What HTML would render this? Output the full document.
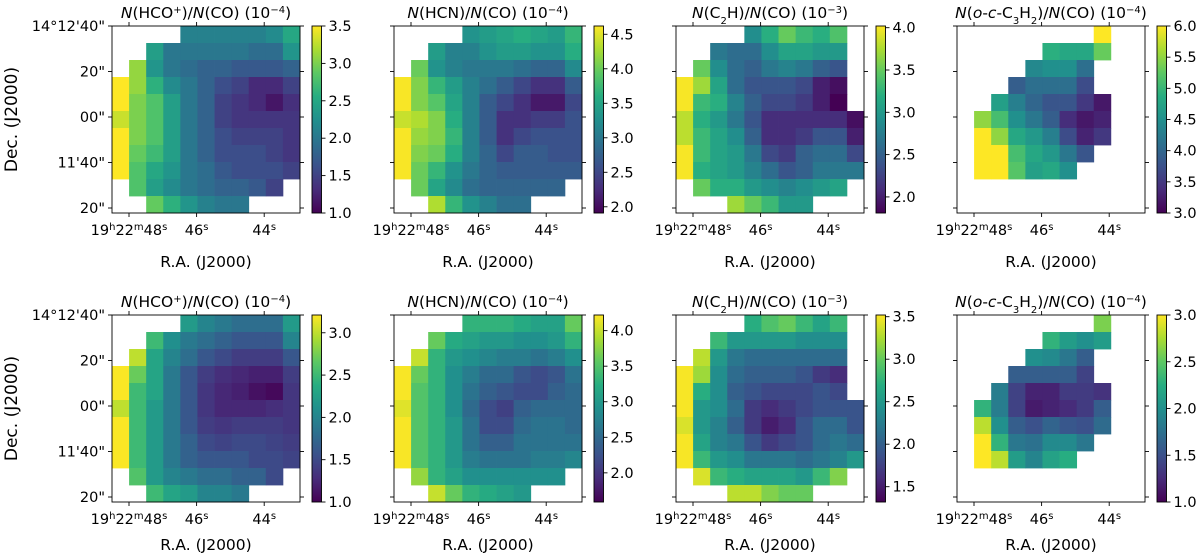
<!DOCTYPE html>
<html><head><meta charset="utf-8"><style>
html,body{margin:0;padding:0;background:#fff;width:1200px;height:555px;overflow:hidden}
svg text{font-family:"DejaVu Sans","Liberation Sans",sans-serif;fill:#000}
</style></head><body>
<svg id="fig" width="1200" height="555" viewBox="0 0 1200 555" xmlns="http://www.w3.org/2000/svg">
<defs>
<linearGradient id="viridis" x1="0" y1="1" x2="0" y2="0">
<stop offset="0" stop-color="#440154"/><stop offset="0.125" stop-color="#472c7a"/><stop offset="0.25" stop-color="#3b518b"/><stop offset="0.375" stop-color="#2c718e"/><stop offset="0.5" stop-color="#21908d"/><stop offset="0.625" stop-color="#27ad81"/><stop offset="0.75" stop-color="#5cc863"/><stop offset="0.875" stop-color="#aadc32"/><stop offset="1" stop-color="#fde725"/>
</linearGradient>
</defs>
</svg>
<script>
const n=null;
const hcoTop=[
[n,n,n,n,2.1,2.1,2.1,2.1,2.1,2.2,2.5],
[n,n,2.4,2.0,2.0,2.0,2.0,2.0,1.9,1.9,2.3],
[n,3.1,2.3,2.0,1.9,1.8,1.8,1.7,1.7,1.7,1.8],
[3.5,3.1,2.6,2.2,2.0,1.8,1.6,1.5,1.3,1.3,1.5],
[3.5,3.0,2.8,2.4,2.0,1.8,1.5,1.4,1.3,1.15,1.35],
[3.3,3.0,2.8,2.4,2.0,1.8,1.5,1.4,1.4,1.4,1.4],
[3.5,3.0,2.8,2.4,2.0,1.8,1.6,1.5,1.5,1.5,1.4],
[3.5,2.9,2.7,2.4,2.0,1.8,1.6,1.6,1.6,1.5,1.4],
[3.5,2.8,2.5,2.3,2.0,1.9,1.7,1.6,1.6,1.6,1.5],
[n,2.8,2.4,2.2,2.0,1.9,1.8,1.8,1.7,1.5,n],
[n,n,2.9,2.6,2.3,2.1,2.0,2.0,n,n,n]];
const hcnTop=[
[n,n,n,n,3.3,3.4,3.5,3.6,3.5,3.4,3.7],
[n,n,3.4,3.1,3.1,3.3,3.4,3.4,3.3,3.3,3.6],
[n,4.0,3.3,3.1,3.0,3.0,3.0,2.9,2.8,2.8,3.2],
[4.6,4.1,3.7,3.4,3.1,2.9,2.7,2.5,2.3,2.3,2.7],
[4.6,4.1,3.9,3.5,3.1,2.7,2.5,2.3,2.1,2.1,2.5],
[4.4,4.3,4.1,3.6,3.1,2.7,2.3,2.3,2.4,2.4,2.6],
[4.6,4.2,4.1,3.7,3.1,2.7,2.3,2.5,2.6,2.6,2.6],
[4.6,4.1,4.0,3.6,3.1,2.8,2.5,2.7,2.7,2.6,2.6],
[4.6,4.0,3.7,3.3,3.0,2.8,2.7,2.7,2.7,2.7,2.7],
[n,4.0,3.5,3.2,2.9,2.8,2.8,2.8,2.8,2.8,n],
[n,n,4.3,3.7,3.3,3.1,2.9,2.9,n,n,n]];
const c2hTop=[
[n,n,n,n,2.9,3.2,3.5,3.3,3.2,3.4,n],
[n,n,2.7,2.6,2.6,2.9,3.1,3.1,3.0,3.0,n],
[n,3.5,2.9,2.6,2.5,2.7,2.8,2.7,2.5,2.4,n],
[4.0,3.7,3.1,2.6,2.4,2.4,2.4,2.3,2.0,1.9,n],
[4.0,3.3,3.2,2.8,2.5,2.3,2.3,2.2,2.0,1.8,n],
[3.8,3.2,3.0,2.7,2.4,2.1,2.1,2.1,2.1,2.1,1.9],
[3.8,3.3,3.1,2.9,2.5,2.1,2.1,2.2,2.4,2.4,2.0],
[4.0,3.3,3.1,3.0,2.7,2.3,2.2,2.5,2.6,2.6,2.3],
[4.0,3.2,3.1,3.0,2.8,2.6,2.4,2.5,2.7,2.7,2.7],
[n,3.5,3.2,3.2,3.0,2.9,2.8,2.9,3.0,3.1,n],
[n,n,n,3.7,3.5,3.3,3.0,3.0,n,n,n]];
const c3h2Top=[
[n,n,n,n,n,n,n,n,6.0,n,n],
[n,n,n,n,n,4.9,4.8,4.8,5.3,n,n],
[n,n,n,n,4.4,4.5,4.5,4.1,n,n,n],
[n,n,n,3.9,4.1,4.1,4.1,3.7,n,n,n],
[n,n,4.7,4.3,4.0,3.8,3.8,3.5,3.2,n,n],
[n,5.5,5.1,4.5,4.2,3.9,3.4,3.2,3.3,n,n],
[n,6.0,5.5,4.8,4.6,4.3,3.7,3.3,3.5,n,n],
[n,6.0,6.0,5.1,4.8,4.6,4.2,3.8,n,n,n],
[n,6.0,6.0,5.2,4.7,4.8,4.5,n,n,n,n],
[n,n,n,n,n,n,n,n,n,n,n],
[n,n,n,n,n,n,n,n,n,n,n]];
const hcoBot=[
[n,n,n,n,2.2,2.0,1.9,1.8,1.8,1.8,2.2],
[n,n,2.5,2.1,1.9,1.8,1.7,1.6,1.6,1.6,2.0],
[n,3.0,2.3,2.0,1.8,1.6,1.5,1.4,1.4,1.4,1.6],
[3.2,2.7,2.3,1.9,1.6,1.4,1.3,1.25,1.2,1.2,1.4],
[3.2,2.5,2.3,1.9,1.6,1.35,1.25,1.2,1.1,1.05,1.35],
[3.0,2.5,2.2,1.9,1.6,1.35,1.25,1.25,1.25,1.3,1.35],
[3.2,2.5,2.2,1.9,1.6,1.4,1.35,1.4,1.4,1.4,1.35],
[3.2,2.5,2.2,1.9,1.7,1.5,1.45,1.5,1.5,1.45,1.4],
[3.2,2.5,2.2,1.9,1.7,1.6,1.6,1.6,1.5,1.5,1.45],
[n,2.6,2.2,2.0,1.9,1.8,1.8,1.7,1.7,1.5,n],
[n,n,2.5,2.3,2.2,2.0,2.0,1.9,n,n,n]];
const hcnBot=[
[n,n,n,n,3.3,3.3,3.3,3.2,3.1,3.1,3.6],
[n,n,3.6,3.2,3.1,3.0,3.0,2.9,2.9,3.0,3.3],
[n,4.0,3.3,3.0,2.9,2.8,2.7,2.7,2.6,2.7,2.9],
[4.2,3.6,3.3,2.9,2.7,2.5,2.5,2.3,2.2,2.3,2.6],
[4.2,3.5,3.3,2.9,2.6,2.4,2.3,2.2,2.2,2.4,2.5],
[4.1,3.5,3.3,2.9,2.5,2.2,2.1,2.4,2.5,2.5,2.5],
[4.2,3.5,3.3,3.0,2.6,2.2,2.2,2.5,2.6,2.6,2.5],
[4.2,3.5,3.3,3.0,2.6,2.4,2.4,2.6,2.6,2.6,2.6],
[4.2,3.5,3.3,3.0,2.7,2.6,2.6,2.6,2.7,2.7,2.8],
[n,3.8,3.3,3.1,2.9,2.9,2.9,2.9,2.9,2.9,n],
[n,n,4.0,3.6,3.3,3.2,3.1,3.0,n,n,n]];
const c2hBot=[
[n,n,n,n,2.7,2.9,3.0,2.8,2.6,2.8,n],
[n,n,2.8,2.5,2.5,2.5,2.5,2.4,2.4,2.4,n],
[n,3.3,2.5,2.2,2.1,2.1,2.1,2.1,2.1,2.1,n],
[3.5,3.2,2.4,2.1,2.0,2.0,2.0,1.9,1.7,1.6,n],
[3.5,2.7,2.4,2.0,1.9,1.8,1.8,1.8,1.9,1.8,n],
[3.5,2.5,2.4,2.1,1.7,1.6,1.7,1.8,1.9,1.9,1.9],
[3.4,2.5,2.3,2.0,1.7,1.5,1.6,1.9,2.1,2.1,1.9],
[3.5,2.6,2.3,2.2,1.9,1.7,1.8,1.9,2.1,2.2,2.1],
[3.5,2.8,2.5,2.4,2.2,2.2,2.2,2.1,2.2,2.3,2.5],
[n,3.4,2.8,2.7,2.6,2.6,2.6,2.5,2.8,3.1,n],
[n,n,n,3.3,3.3,3.1,3.0,3.0,n,n,n]];
const c3h2Bot=[
[n,n,n,n,n,n,n,n,2.6,n,n],
[n,n,n,n,n,2.3,2.1,2.0,2.1,n,n],
[n,n,n,n,2.0,1.95,1.8,1.6,n,n,n],
[n,n,n,1.6,1.6,1.6,1.6,1.4,n,n,n],
[n,n,1.85,1.4,1.2,1.2,1.35,1.35,1.3,n,n],
[n,2.3,1.85,1.4,1.15,1.2,1.25,1.35,1.6,n,n],
[n,2.8,2.0,1.6,1.5,1.65,1.55,1.5,1.7,n,n],
[n,3.0,2.3,1.8,1.75,1.95,1.95,1.8,n,n,n],
[n,3.0,2.8,2.1,1.9,2.15,2.25,n,n,n,n],
[n,n,n,n,n,n,n,n,n,n,n],
[n,n,n,n,n,n,n,n,n,n,n]];
const colorRanges=[[1.0,3.5],[1.91,4.62],[1.81,4.02],[3.0,6.0],[1.0,3.21],[1.59,4.22],[1.32,3.52],[1.0,3.0]];
const cbarTicks=[
[1.0,1.5,2.0,2.5,3.0,3.5],[2.0,2.5,3.0,3.5,4.0,4.5],[2.0,2.5,3.0,3.5,4.0],[3.0,3.5,4.0,4.5,5.0,5.5,6.0],
[1.0,1.5,2.0,2.5,3.0],[2.0,2.5,3.0,3.5,4.0],[1.5,2.0,2.5,3.0,3.5],[1.0,1.5,2.0,2.5,3.0]];
const titles=[
'<tspan font-style="italic">N</tspan>(HCO<tspan baseline-shift="super" font-size="10">+</tspan>)/<tspan font-style="italic">N</tspan>(CO) (10<tspan baseline-shift="super" font-size="10">−4</tspan>)',
'<tspan font-style="italic">N</tspan>(HCN)/<tspan font-style="italic">N</tspan>(CO) (10<tspan baseline-shift="super" font-size="10">−4</tspan>)',
'<tspan font-style="italic">N</tspan>(C<tspan baseline-shift="sub" font-size="10">2</tspan>H)/<tspan font-style="italic">N</tspan>(CO) (10<tspan baseline-shift="super" font-size="10">−3</tspan>)',
'<tspan font-style="italic">N</tspan>(<tspan font-style="italic">o</tspan>-<tspan font-style="italic">c</tspan>-C<tspan baseline-shift="sub" font-size="10">3</tspan>H<tspan baseline-shift="sub" font-size="10">2</tspan>)/<tspan font-style="italic">N</tspan>(CO) (10<tspan baseline-shift="super" font-size="10">−4</tspan>)'];
const titleNames=['hco-ratio','hcn-ratio','c2h-ratio','c3h2-ratio'];
const yTickLabels=['14°12\'40"','20"','00"','11\'40"','20"'];
const xTickLabels=['19<tspan baseline-shift="super" font-size="10">h</tspan>22<tspan baseline-shift="super" font-size="10">m</tspan>48<tspan baseline-shift="super" font-size="10">s</tspan>','46<tspan baseline-shift="super" font-size="10">s</tspan>','44<tspan baseline-shift="super" font-size="10">s</tspan>'];
const grids=[hcoTop,hcnTop,c2hTop,c3h2Top,hcoBot,hcnBot,c2hBot,c3h2Bot];

const VIR=["#440154","#472c7a","#3b518b","#2c718e","#21908d","#27ad81","#5cc863","#aadc32","#fde725"];
function hex(h){return [1,3,5].map(i=>parseInt(h.substr(i,2),16));}
const VC=VIR.map(hex);
function viridis(t){t=Math.max(0,Math.min(1,t));const f=t*8,i=Math.min(7,Math.floor(f)),u=f-i;
const a=VC[i],b=VC[i+1];return 'rgb('+a.map((v,k)=>Math.round(v+(b[k]-v)*u)).join(',')+')';}
const svg=document.getElementById('fig');
const NS='http://www.w3.org/2000/svg';
function mk(tag,attrs,parent){const e=document.createElementNS(NS,tag);for(const k in attrs)e.setAttribute(k,attrs[k]);(parent||svg).appendChild(e);return e;}
const AX=[112,394,676,957],AY=[26,315],AW=188,AH=187,NC=11,NR=11;
const XL=[267,550];
const cw=AW/NC,ch=AH/NR;
const xTickPos=[17,84.6,152.2],yTickPos=[0,45.5,91,136.5,182];
grids.forEach((g,p)=>{
  const col=p%4,row=Math.floor(p/4);
  const x0=AX[col],y0=AY[row];
  const [vmin,vmax]=colorRanges[p];
  const grp=mk('g',{});
  
  
  const xs=v=>x0+v*cw, ys=r=>y0+r*ch;
  g.forEach((rw,r)=>rw.forEach((v,c)=>{
    if(v===null)return;
    const cell=mk('rect',{x:xs(c).toFixed(2),y:ys(r).toFixed(2),width:(cw+0.4).toFixed(2),height:(ch+0.4).toFixed(2),fill:viridis((v-vmin)/(vmax-vmin))},grp);
    
    
  }));
  const fr=mk('rect',{x:x0,y:y0,width:AW,height:AH,fill:'none',stroke:'#000','stroke-width':0.9},grp);
  
  
  xTickPos.forEach((t,i)=>{
    mk('line',{x1:x0+t,x2:x0+t,y1:y0+AH,y2:y0+AH+4,stroke:'#000','stroke-width':0.9},grp);
    mk('line',{x1:x0+t,x2:x0+t,y1:y0,y2:y0-4,stroke:'#000','stroke-width':0.9},grp);
    const tl=mk('text',{x:x0+t,y:y0+AH+22,'text-anchor':'middle','font-size':14.5},grp);
    tl.innerHTML=xTickLabels[i];
    
    
  });
  yTickPos.forEach((t,i)=>{
    mk('line',{x1:x0,x2:x0-4,y1:y0+t,y2:y0+t,stroke:'#000','stroke-width':0.9},grp);
    mk('line',{x1:x0+AW,x2:x0+AW+4,y1:y0+t,y2:y0+t,stroke:'#000','stroke-width':0.9},grp);
    if(col===0){
      const tl=mk('text',{x:x0-7,y:y0+t+5,'text-anchor':'end','font-size':14.5},grp);
      tl.textContent=yTickLabels[i];
      
      
    }
  });
  const tt=mk('text',{x:x0+AW/2,y:y0-8,'text-anchor':'middle','font-size':15.5},grp);
  tt.innerHTML=titles[col];
  
  
  const xl=mk('text',{x:x0+AW/2,y:XL[row],'text-anchor':'middle','font-size':15.5},grp);
  xl.textContent='R.A. (J2000)';
  
  
  if(col===0){
    const yl=mk('text',{transform:'translate(17,'+(y0+AH/2)+') rotate(-90)','text-anchor':'middle','font-size':17},grp);
    yl.textContent='Dec. (J2000)';
    
    
  }
  const cx=x0+AW+12,cwid=9.5;
  const cb=mk('rect',{x:cx,y:y0,width:cwid,height:AH,fill:'url(#viridis)',stroke:'#000','stroke-width':0.9},grp);
  
  
  const cy=v=>y0+AH-(v-vmin)/(vmax-vmin)*AH;
  cbarTicks[p].forEach(v=>{
    const yy=cy(v);
    mk('line',{x1:cx+cwid,x2:cx+cwid+4,y1:yy,y2:yy,stroke:'#000','stroke-width':0.9},grp);
    const tl=mk('text',{x:cx+cwid+7,y:yy+5,'font-size':14.5},grp);
    tl.textContent=v.toFixed(1);
    
    
  });
});
</script>
</body></html>
